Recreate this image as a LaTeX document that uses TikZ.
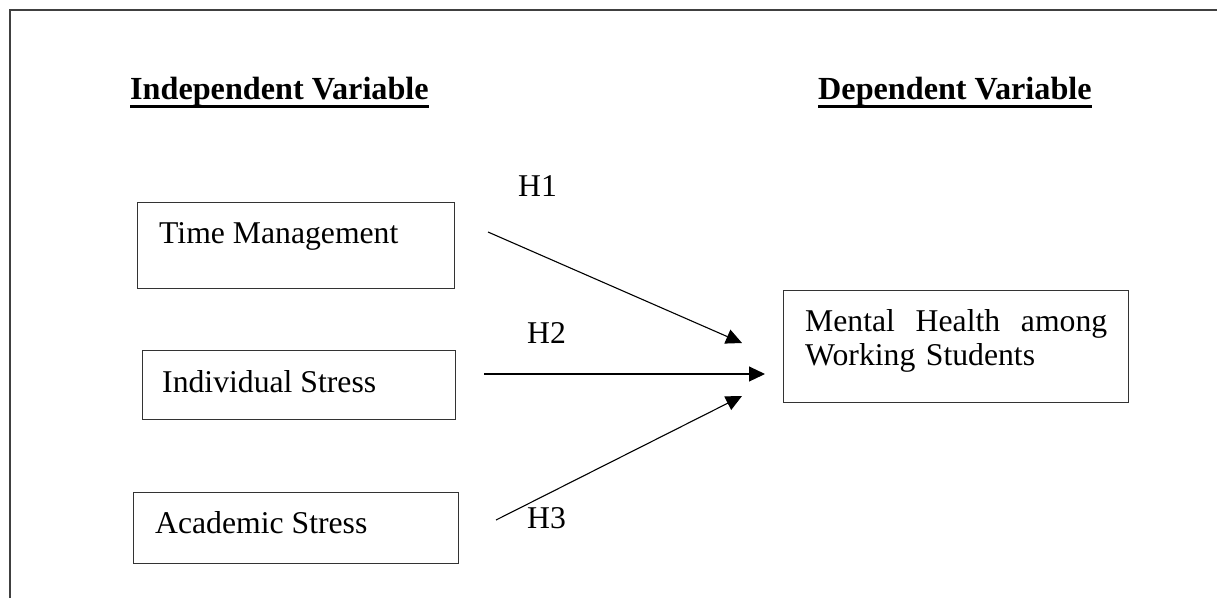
\documentclass[tikz,border=0pt]{standalone}
\usepackage{fontspec}
\setmainfont{Liberation Serif}
\usetikzlibrary{arrows.meta}
\begin{document}
\begin{tikzpicture}[x=1pt,y=-1pt,
  box/.style={draw=black!80, line width=1.3pt, inner sep=0pt, anchor=north west},
  body/.style={font=\fontsize{31.7}{34}\selectfont, inner sep=0pt, anchor=base west},
  head/.style={font=\fontsize{32.2}{36}\selectfont\bfseries, inner sep=0pt, anchor=base west},
  link/.style={line width=1.1pt, -{Triangle[length=16pt,width=15pt]}},
  rule/.style={line width=3pt},
]
\useasboundingbox (0,0) rectangle (1217,598);
% page frame
\draw[line width=2pt, black!75] (10,598) -- (10,10) -- (1217,10);

% column headings
\node[head] (ivhead) at (130,99) {Independent Variable};
\node[head] (dvhead) at (818,99) {Dependent Variable};
\draw[rule] ([yshift=-7pt]ivhead.base west) -- ([yshift=-7pt]ivhead.base east);
\draw[rule] ([yshift=-7pt]dvhead.base west) -- ([yshift=-7pt]dvhead.base east);

% independent variables
\node[box, minimum width=317pt, minimum height=86pt] (tmbox) at (137,202) {};
\node[body] (tmtext) at (159,243) {Time Management};
\node[box, minimum width=313pt, minimum height=69pt] (isbox) at (142,350) {};
\node[body] (istext) at (162,392) {Individual Stress};
\node[box, minimum width=325pt, minimum height=71pt] (asbox) at (133,492) {};
\node[body] (astext) at (155,533) {Academic Stress};

% dependent variable (first line justified to the full width)
\node[box, minimum width=345pt, minimum height=112pt] (mhbox) at (783,290) {};
\node[body, anchor=north west, text width=302pt, align=left] (mhtext) at (805,309)
  {\hbox to 302pt{Mental\hfill Health\hfill among}\\Working Students};

% hypothesised paths
\coordinate (h1from) at (488,232);
\coordinate (h1to) at (742,343);
\coordinate (h2from) at (484,374);
\coordinate (h2to) at (765,374);
\coordinate (h3from) at (496,520);
\coordinate (h3to) at (742,396);
\draw[link] (h1from) -- (h1to);
\draw[link] (h2from) -- (h2to);
\draw[link] (h3from) -- (h3to);

\node[body] (h1) at (518,196) {H1};
\node[body] (h2) at (527,343) {H2};
\node[body] (h3) at (527,528) {H3};
\end{tikzpicture}
\end{document}
